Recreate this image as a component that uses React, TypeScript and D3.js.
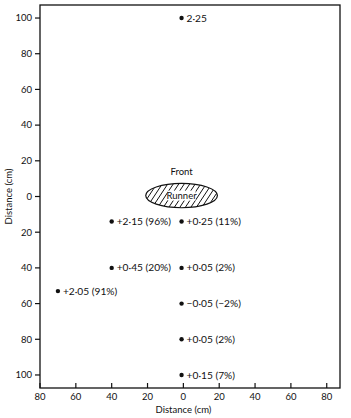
import * as d3 from 'd3';

// lateral distance (cm, negative = left) and longitudinal distance (cm, positive = front)
const pointX = [-1, -40, -1, -40, -1, -70, -1, -1, -1];
const pointY = [100, -14, -14, -40, -40, -53, -60, -80, -100];
const pointLabels = [
    '2·25',
    '+2·15 (96%)',
    '+0·25 (11%)',
    '+0·45 (20%)',
    '+0·05 (2%)',
    '+2·05 (91%)',
    '−0·05 (−2%)',
    '+0·05 (2%)',
    '+0·15 (7%)',
];

const xTicks = [-80, -60, -40, -20, 0, 20, 40, 60, 80];
const yTicks = [100, 80, 60, 40, 20, 0, -20, -40, -60, -80, -100];

const runnerCenter = { x: -1, y: 0.5 };
const runnerRadius = { x: 20, y: 6.8 };

const width = 351;
const height = 418;
const left = 40, right = 340, top = 5, bottom = 388;

const xScale = d3.scaleLinear().domain([-80, 87.4]).range([left, right]);
const yScale = d3.scaleLinear().domain([107.3, -107.3]).range([top, bottom]);

const font = "Lato, 'Open Sans', sans-serif";

const App = () => {
    const cx = xScale(runnerCenter.x);
    const cy = yScale(runnerCenter.y);
    const rx = xScale(runnerRadius.x) - xScale(0);
    const ry = yScale(0) - yScale(runnerRadius.y);

    // hatch lines through the ellipse
    const hatch: number[] = d3.range(-60, 60, 5.5);

    return (
        <svg width={width} height={height} style={{ position: 'absolute', left: 0, top: 0, background: '#fff' }}
            fontFamily={font}>
            <defs>
                <clipPath id="runnerClip">
                    <ellipse cx={cx} cy={cy} rx={rx} ry={ry} />
                </clipPath>
            </defs>
            <rect x={left} y={top} width={right - left} height={bottom - top} fill="none" stroke="#111" strokeWidth={1.3} />

            {yTicks.map((t, i) => (
                <g key={'y' + i}>
                    <line x1={left - 5} x2={left} y1={yScale(t)} y2={yScale(t)} stroke="#111" strokeWidth={1.2} />
                    <text x={left - 8} y={yScale(t)} dy="0.35em" textAnchor="end" fontSize={9.5} fill="#111">{Math.abs(t)}</text>
                </g>
            ))}

            {xTicks.map((t, i) => (
                <g key={'x' + i}>
                    <line x1={xScale(t)} x2={xScale(t)} y1={bottom - 5} y2={bottom} stroke="#111" strokeWidth={1.2} />
                    <text x={xScale(t)} y={bottom + 12} textAnchor="middle" fontSize={9.5} fill="#111">{Math.abs(t)}</text>
                </g>
            ))}

            <text x={(left + 327) / 2} y={413} textAnchor="middle" fontSize={9.5} fill="#111">Distance (cm)</text>
            <text transform={`translate(12,${yScale(0)}) rotate(-90)`} textAnchor="middle" fontSize={9.5} fill="#111">Distance (cm)</text>

            {/* runner */}
            <g clipPath="url(#runnerClip)">
                {hatch.map((h, i) => (
                    <line key={i} x1={cx + h - 8} y1={cy + ry} x2={cx + h + 8} y2={cy - ry} stroke="#111" strokeWidth={1} />
                ))}
            </g>
            <ellipse cx={cx} cy={cy} rx={rx} ry={ry} fill="none" stroke="#111" strokeWidth={1.2} />
            <rect x={cx - 14} y={cy - 5} width={28} height={10} fill="#fff" />
            <text x={cx} y={cy} dy="0.35em" textAnchor="middle" fontSize={9.5} fill="#111">Runner</text>
            <text x={cx} y={yScale(12)} textAnchor="middle" fontSize={9.5} fill="#111">Front</text>

            {pointX.map((px, i) => (
                <g key={'p' + i}>
                    <circle cx={xScale(px)} cy={yScale(pointY[i])} r={2.2} fill="#111" />
                    <text x={xScale(px) + 5} y={yScale(pointY[i])} dy="0.35em" fontSize={10.2} fill="#111">{pointLabels[i]}</text>
                </g>
            ))}
        </svg>
    );
};

export default App;
